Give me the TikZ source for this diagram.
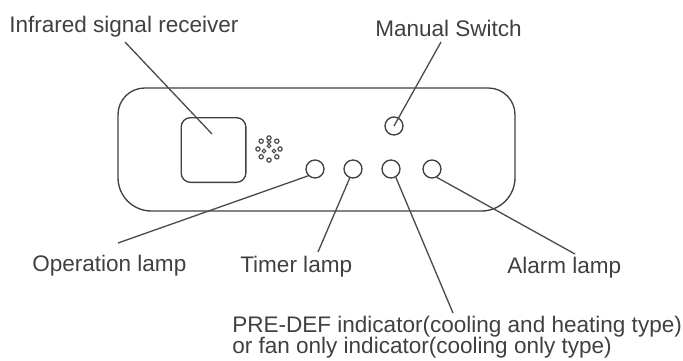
\documentclass[tikz,border=0pt]{standalone}
\usepackage{fontspec}
\setmainfont{Liberation Sans}
\tikzset{
  outline/.style={draw=black!75, line width=1pt},
  leader/.style={draw=black!70, line width=1pt},
  lamp/.style={outline, circle, inner sep=0pt, minimum size=13.5pt},
  caption/.style={text=black!75, font=\fontsize{16.9pt}{20pt}\selectfont, anchor=west, inner sep=0pt},
}
\begin{document}
\begin{tikzpicture}[x=0.75pt,y=-0.75pt]
\useasboundingbox (0,0) rectangle (683,361);

% panel
\draw[outline] (300,88) [rounded corners=20pt] -- (118,88) [rounded corners=25pt] -- (118,211) -- (515,211) [rounded corners=20pt] -- (515,88) -- cycle;

% receiver window and lamps
\node[outline, rounded corners=7pt, inner sep=0pt, minimum size=48.5pt] (window) at (213.5,150) {};
\node[lamp] (swManual) at (394,126) {};
\node[lamp] (lampOperation) at (315,169) {};
\node[lamp] (lampTimer) at (353,169) {};
\node[lamp] (lampPre) at (391,169) {};
\node[lamp] (lampAlarm) at (432,169) {};

% grille
\foreach \a in {0,45,...,315} {\draw[black!70, line width=0.9pt] (269,149) ++(\a:8.3pt) circle (1.6pt);}
\foreach \x/\y in {269/142,269/146,264/151,274/151} {\draw[black!70, line width=0.9pt] (\x,\y) circle (1.4pt);}

% labels
\node[caption] (capReceiver) at (9,27) {Infrared signal receiver};
\node[caption] (capManual) at (375,28) {Manual Switch};
\node[caption] (capOperation) at (32,266) {Operation lamp};
\node[caption] (capTimer) at (240,267) {Timer lamp};
\node[caption] (capAlarm) at (507,268) {Alarm lamp};
\node[caption] (capPre) at (232,327) {PRE-DEF indicator(cooling and heating type)};
\node[caption] (capFan) at (232,348) {or fan only indicator(cooling only type)};

% leader ends
\coordinate (endReceiver) at (125,42);
\coordinate (inWindow) at (212,134);
\coordinate (endManual) at (441,42);
\coordinate (endOperation) at (118,243);
\coordinate (endTimer) at (318,252);
\coordinate (endPre) at (453,313);
\coordinate (endAlarm) at (575,254);

\draw[leader] (endReceiver) -- (inWindow);
\draw[leader] (endManual) -- (swManual.center);
\draw[leader] (endOperation) -- (lampOperation.225);
\draw[leader] (endTimer) -- (lampTimer.250);
\draw[leader] (endPre) -- (lampPre.300);
\draw[leader] (endAlarm) -- (lampAlarm.300);
\end{tikzpicture}
\end{document}
